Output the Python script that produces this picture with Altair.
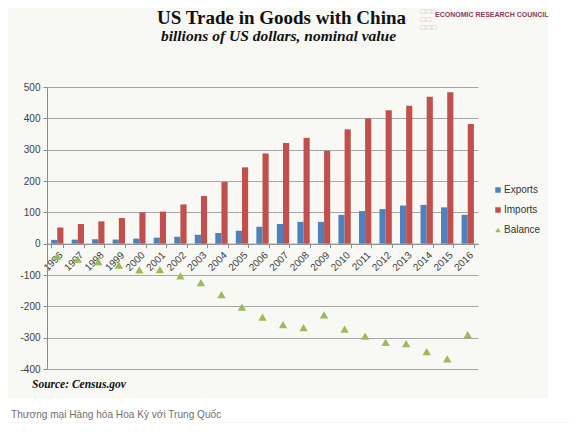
import altair as alt
import pandas as pd

# ---- data ----
years = [str(y) for y in range(1996, 2017)]
exports = [12.0, 12.9, 14.2, 13.1, 16.2, 19.2, 22.1, 28.4, 34.4, 41.2, 53.7,
           62.9, 69.7, 69.5, 91.9, 104.1, 110.5, 121.7, 123.7, 115.9, 92.0]
imports = [51.5, 62.6, 71.2, 81.8, 100.0, 102.3, 125.2, 152.4, 196.7, 243.5, 287.8,
           321.4, 337.8, 296.4, 364.9, 399.4, 425.6, 440.4, 468.5, 483.2, 382.0]
balance = [-39.5, -49.7, -57.0, -68.7, -83.8, -83.1, -103.1, -124.0, -162.3, -202.3, -234.1,
           -258.5, -268.0, -226.9, -273.0, -295.3, -315.1, -318.7, -344.8, -367.3, -290.0]
series = ["Exports", "Imports", "Balance"]
colors = ["#4F81BD", "#C0504D", "#9BBB59"]
shapes = ["square", "square", "triangle-up"]
y_ticks = list(range(-400, 501, 100))

rows = []
for name, vals in zip(series, [exports, imports, balance]):
    for yr, v in zip(years, vals):
        rows.append({"year": yr, "series": name, "value": v})
df = pd.DataFrame(rows)
bars_df = df[df.series != "Balance"]
bal_df = df[df.series == "Balance"]
one = pd.DataFrame({"k": [0]})

W, H = 431, 282
AXIS_GRAY = "#8c8c8c"
LABEL_COL = "#404040"

x_enc = alt.X(
    "year:N", sort=years,
    scale=alt.Scale(paddingInner=0.4, paddingOuter=0.2),
    axis=alt.Axis(title=None, labelAngle=-45, offset=-H * 4 / 9, tickBand="extent",
                  domainColor=AXIS_GRAY, tickColor=AXIS_GRAY, tickSize=4,
                  labelFont="Liberation Sans", labelFontSize=10, labelColor=LABEL_COL,
                  labelPadding=2, grid=False),
)
y_enc = alt.Y(
    "value:Q",
    scale=alt.Scale(domain=[-400, 500], nice=False, zero=False),
    axis=alt.Axis(values=y_ticks, title=None, grid=True, gridColor="#a6a6a6",
                  domainColor=AXIS_GRAY, tickColor=AXIS_GRAY, tickSize=4,
                  labelExpr="toString(datum.value)",
                  labelFont="Liberation Sans", labelFontSize=10, labelColor=LABEL_COL,
                  labelPadding=3),
)
legend = alt.Legend(title=None, orient="none", legendX=446, legendY=98,
                    symbolSize=30, symbolStrokeWidth=0, labelFont="Liberation Sans",
                    labelFontSize=10, labelColor="#333333", rowPadding=10,
                    labelOffset=1, padding=0)
color_enc = alt.Color("series:N", scale=alt.Scale(domain=series, range=colors), legend=legend)
shape_enc = alt.Shape("series:N", scale=alt.Scale(domain=series, range=shapes), legend=legend)

# white page areas outside the off-white picture panel
strip_bottom = alt.Chart(one).mark_rect(color="white").encode(
    x=alt.value(-39), x2=alt.value(525), y=alt.value(311), y2=alt.value(335)
)
strip_right = alt.Chart(one).mark_rect(color="white").encode(
    x=alt.value(501), x2=alt.value(525), y=alt.value(-79), y2=alt.value(311)
)

bars = alt.Chart(bars_df).mark_bar().encode(
    x=x_enc,
    xOffset=alt.XOffset("series:N", sort=["Exports", "Imports"],
                        scale=alt.Scale(paddingInner=0, paddingOuter=0)),
    y=y_enc,
    color=color_enc,
)

points = alt.Chart(bal_df).mark_point(filled=True, size=70, opacity=1).encode(
    x=x_enc, y=y_enc, color=color_enc, shape=shape_enc,
)

title = alt.Chart(one).mark_text(
    text="US Trade in Goods with China", align="center", baseline="alphabetic",
    font="Liberation Serif", fontSize=19, fontWeight="bold", color="#111111",
).encode(x=alt.value(234.5), y=alt.value(-63))

subtitle = alt.Chart(one).mark_text(
    text="billions of US dollars, nominal value", align="center", baseline="alphabetic",
    font="Liberation Serif", fontSize=15.5, fontWeight="bold", fontStyle="italic",
    color="#111111",
).encode(x=alt.value(231.5), y=alt.value(-46))

source = alt.Chart(one).mark_text(
    text="Source: Census.gov", align="left", baseline="alphabetic",
    font="Liberation Serif", fontSize=11.5, fontWeight="bold", fontStyle="italic",
    color="#111111",
).encode(x=alt.value(-15), y=alt.value(301))

caption = alt.Chart(one).mark_text(
    text="Thương mại Hàng hóa Hoa Kỳ với Trung Quốc", align="left", baseline="alphabetic",
    font="Liberation Sans", fontSize=10.1, color="#6f6f6f",
).encode(x=alt.value(-36), y=alt.value(331))

logo_text = alt.Chart(one).mark_text(
    text="ECONOMIC RESEARCH COUNCIL", align="left", baseline="middle",
    font="Liberation Sans", fontSize=7, fontWeight="bold", color="#8a3a5c",
).encode(x=alt.value(388), y=alt.value(-72))

logo_boxes = alt.Chart(one).mark_text(
    text=["□□□", "□□", "□□□"], align="left", baseline="top", lineHeight=8,
    font="DejaVu Sans", fontSize=6, color="#b9b0bc",
).encode(x=alt.value(373), y=alt.value(-79))

chart = alt.layer(
    strip_bottom, strip_right, bars, points, title, subtitle, source, caption,
    logo_text, logo_boxes,
).properties(
    width=W, height=H,
    padding={"left": 39, "top": 79, "right": 94, "bottom": 54},
    autosize=alt.AutoSizeParams(type="none"),
    background="#F8F9F4",
).configure_view(stroke=None)

chart.save("out.html", embed_options={"renderer": "svg", "actions": False})
